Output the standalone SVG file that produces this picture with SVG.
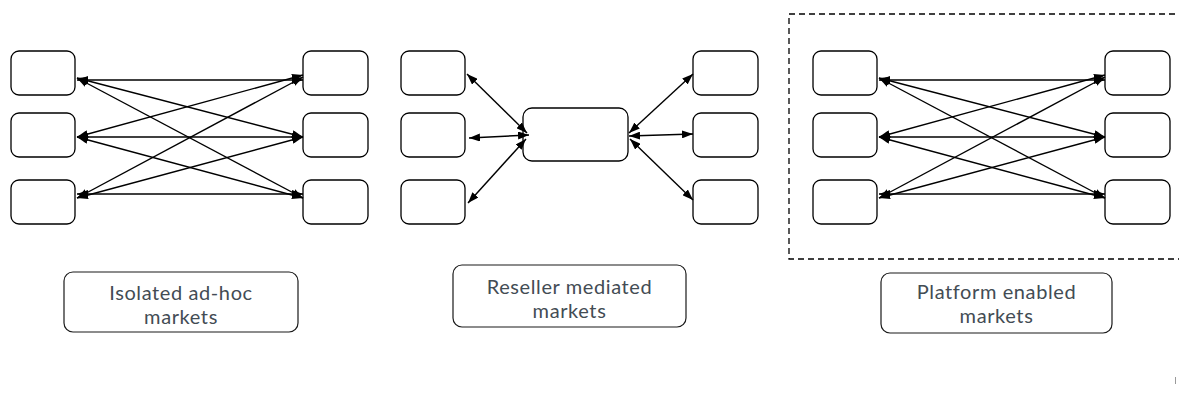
<svg xmlns="http://www.w3.org/2000/svg" xmlns:xlink="http://www.w3.org/1999/xlink" width="1179" height="394" viewBox="0 0 1179 394">
  <style>
    .node { fill: #ffffff; stroke: #000000; stroke-width: 1.3; }
    .label { fill: #ffffff; stroke: #1a1a1a; stroke-width: 1.2; }
    .edge { fill: none; stroke: #000000; stroke-width: 1.4; marker-start: url(#arrow); marker-end: url(#arrow); }
    .frame { fill: none; stroke: #000000; stroke-width: 1.3; stroke-dasharray: 6 4; }
    text { font-family: Lato, "Open Sans", "Liberation Sans", sans-serif; font-size: 20px; letter-spacing: 0.6px; fill: #434c54; text-anchor: middle; }
  </style>
  <defs>
    <marker id="arrow" viewBox="0 0 11 8" refX="11" refY="4" markerWidth="11" markerHeight="8" markerUnits="userSpaceOnUse" orient="auto-start-reverse">
      <path d="M0,0 L11,4 L0,8 z" fill="#000000"/>
    </marker>
    <!-- two columns of three participant boxes -->
    <g id="columns">
      <rect class="node" x="11" y="51" width="64" height="44" rx="8"/>
      <rect class="node" x="11" y="113" width="64" height="44" rx="8"/>
      <rect class="node" x="11" y="180" width="64" height="44" rx="8"/>
      <rect class="node" x="303" y="51" width="65" height="44" rx="8"/>
      <rect class="node" x="303" y="113" width="65" height="44" rx="8"/>
      <rect class="node" x="303" y="180" width="65" height="44" rx="8"/>
    </g>
    <!-- full mesh of bilateral links -->
    <g id="mesh">
      <line class="edge" x1="77" y1="80" x2="303" y2="80"/>
      <line class="edge" x1="77" y1="78" x2="303" y2="137"/>
      <line class="edge" x1="77" y1="78" x2="303" y2="198"/>
      <line class="edge" x1="77" y1="137" x2="303" y2="75"/>
      <line class="edge" x1="77" y1="137" x2="303" y2="137"/>
      <line class="edge" x1="77" y1="137" x2="303" y2="198"/>
      <line class="edge" x1="77" y1="198" x2="303" y2="77"/>
      <line class="edge" x1="77" y1="198" x2="303" y2="137"/>
      <line class="edge" x1="77" y1="194" x2="303" y2="194"/>
    </g>
  </defs>

  <!-- Isolated ad-hoc markets -->
  <g id="isolated">
    <use xlink:href="#columns"/>
  </g>
  <g id="isolated-links">
    <use xlink:href="#mesh"/>
  </g>
  <g id="isolated-label">
    <rect class="label" x="64" y="272" width="234" height="60" rx="9"/>
    <text x="181" y="300">Isolated ad-hoc</text>
    <text x="181" y="324">markets</text>
  </g>

  <!-- Reseller mediated markets -->
  <g id="reseller">
    <use xlink:href="#columns" transform="translate(390,0)"/>
    <rect id="reseller-hub" class="node" x="523" y="108" width="105" height="53" rx="9"/>
  </g>
  <g id="reseller-links">
    <line class="edge" x1="467" y1="74" x2="527" y2="133"/>
    <line class="edge" x1="469" y1="138" x2="529" y2="135"/>
    <line class="edge" x1="468" y1="203" x2="526" y2="139"/>
    <line class="edge" x1="629" y1="133" x2="693" y2="74"/>
    <line class="edge" x1="629" y1="136" x2="693" y2="134"/>
    <line class="edge" x1="630" y1="139" x2="693" y2="200"/>
  </g>
  <g id="reseller-label">
    <rect class="label" x="453" y="265" width="233" height="62" rx="9"/>
    <text x="569.5" y="294">Reseller mediated</text>
    <text x="569.5" y="318">markets</text>
  </g>

  <!-- Platform enabled markets -->
  <rect id="platform-boundary" class="frame" x="789" y="14" width="400" height="245"/>
  <g id="platform">
    <use xlink:href="#columns" transform="translate(802,0)"/>
  </g>
  <g id="platform-links">
    <use xlink:href="#mesh" transform="translate(802,0)"/>
  </g>
  <g id="platform-label">
    <rect class="label" x="881" y="273" width="231" height="60" rx="9"/>
    <text x="996.5" y="299">Platform enabled</text>
    <text x="996.5" y="323">markets</text>
  </g>

  <line x1="1175.5" y1="377" x2="1175.5" y2="384" stroke="#9a9a9a" stroke-width="1"/>
</svg>
